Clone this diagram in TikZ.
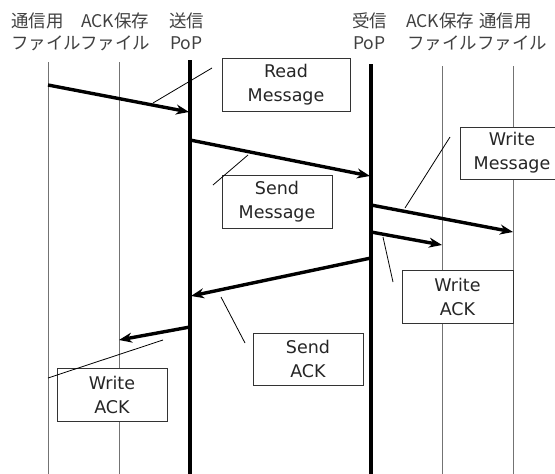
\documentclass[tikz,border=0pt]{standalone}
\usepackage{fontspec}
\setmainfont{DejaVu Sans}
\newfontfamily\cjk{Noto Sans CJK JP}
\usetikzlibrary{arrows.meta}
\begin{document}
\begin{tikzpicture}[x=1pt,y=-1pt,
  lifeline/.style={line width=1pt,draw=black!55},
  poplife/.style={line width=3.4pt,draw=black},
  msgarrow/.style={line width=3.4pt,draw=black,-{Stealth[length=13pt,width=10pt]}},
  leader/.style={line width=0.8pt,draw=black},
  labelbox/.style={draw=black!80,line width=1pt,fill=white,inner sep=0pt,align=center,
    font=\fontsize{17.5}{24}\selectfont,text=black!85},
  hdr/.style={anchor=west,inner sep=0pt,font=\cjk\fontsize{17.5}{18}\selectfont,text=black!75}]
\useasboundingbox (0,0) rectangle (555,474);
% headers
\node[hdr] (h1a) at (11,21) {通信用};
\node[hdr] (h2a) at (81,21) {ACK保存};
\node[hdr] (h3a) at (169,21) {送信};
\node[hdr] (h1b) at (11,43) {ファイル};
\node[hdr] (h2b) at (80,43) {ファイル};
\node[hdr] (h3b) at (170,43) {PoP};
\node[hdr] (h4a) at (352,21) {受信};
\node[hdr] (h4b) at (353,43) {PoP};
\node[hdr] (h5a) at (406,21) {ACK保存};
\node[hdr] (h6a) at (479,21) {通信用};
\node[hdr] (h5b) at (407,43) {ファイル};
\node[hdr] (h6b) at (477,43) {ファイル};
% lifelines
\coordinate (L1t) at (48,62);  \coordinate (L1b) at (48,474);
\coordinate (L2t) at (119,62); \coordinate (L2b) at (119,474);
\coordinate (L3t) at (190,60); \coordinate (L3b) at (190,474);
\coordinate (L4t) at (371,64); \coordinate (L4b) at (371,474);
\coordinate (L5t) at (442,66); \coordinate (L5b) at (442,474);
\coordinate (L6t) at (513,66); \coordinate (L6b) at (513,474);
\draw[lifeline] (L1t) -- (L1b);
\draw[lifeline] (L2t) -- (L2b);
\draw[lifeline] (L5t) -- (L5b);
\draw[lifeline] (L6t) -- (L6b);
\draw[poplife] (L3t) -- (L3b);
\draw[poplife] (L4t) -- (L4b);
% boxes
\node[labelbox,minimum width=128pt,minimum height=53pt] (rm) at (286,84.5) {Read\\Message};
\node[labelbox,minimum width=110pt,minimum height=53pt] (sm) at (277,201.5) {Send\\Message};
\node[labelbox,minimum width=104pt,minimum height=52pt] (wm) at (512,153) {Write\\Message};
\node[labelbox,minimum width=111pt,minimum height=53pt] (war) at (457.5,296.5) {Write\\ACK};
\node[labelbox,minimum width=110pt,minimum height=52pt] (sa) at (308,359) {Send\\ACK};
\node[labelbox,minimum width=110pt,minimum height=53pt] (wal) at (112,394.5) {Write\\ACK};
% arrows
\coordinate (a1s) at (48,85);   \coordinate (a1e) at (189,112);
\coordinate (a2s) at (190,140); \coordinate (a2e) at (370,176);
\coordinate (a3s) at (371,205); \coordinate (a3e) at (513,232);
\coordinate (a4s) at (371,232); \coordinate (a4e) at (442,245);
\coordinate (a5s) at (371,258); \coordinate (a5e) at (191,296);
\coordinate (a6s) at (190,327); \coordinate (a6e) at (119,340);
\draw[msgarrow] (a1s) -- (a1e);
\draw[msgarrow] (a2s) -- (a2e);
\draw[msgarrow] (a3s) -- (a3e);
\draw[msgarrow] (a4s) -- (a4e);
\draw[msgarrow] (a5s) -- (a5e);
\draw[msgarrow] (a6s) -- (a6e);
% leaders
\coordinate (r1a) at (153,103); \coordinate (r1b) at (212,68);
\coordinate (r2a) at (248,155); \coordinate (r2b) at (213,185);
\coordinate (r3a) at (405,208); \coordinate (r3b) at (450,137);
\coordinate (r4a) at (383,237); \coordinate (r4b) at (393,282);
\coordinate (r5a) at (221,297); \coordinate (r5b) at (245,343);
\coordinate (r6a) at (163,340); \coordinate (r6b) at (48,378);
\draw[leader] (r1a) -- (r1b);
\draw[leader] (r2a) -- (r2b);
\draw[leader] (r3a) -- (r3b);
\draw[leader] (r4a) -- (r4b);
\draw[leader] (r5a) -- (r5b);
\draw[leader] (r6a) -- (r6b);
\end{tikzpicture}
\end{document}
